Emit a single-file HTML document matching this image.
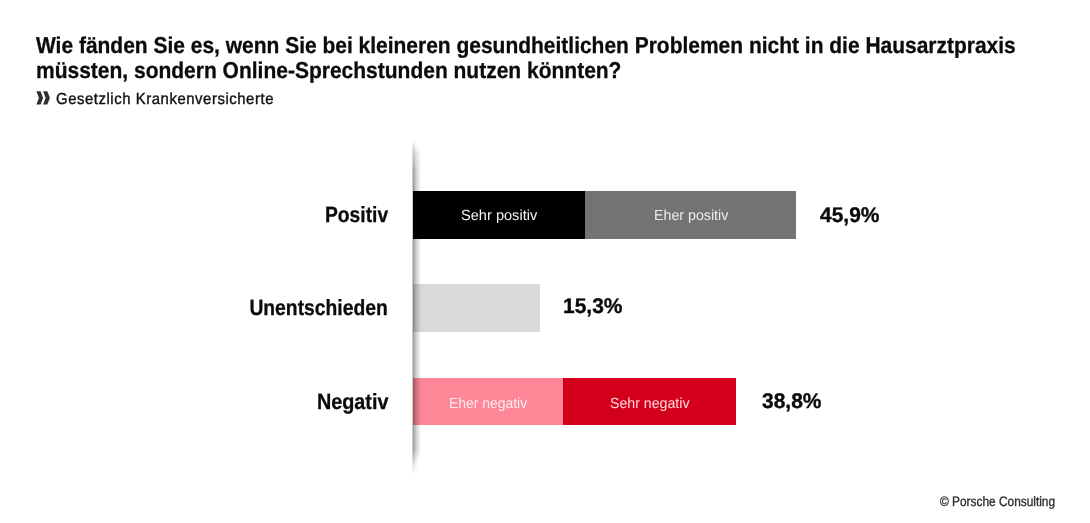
<!DOCTYPE html>
<html lang="de">
<head>
<meta charset="utf-8">
<title>Online-Sprechstunden</title>
<style>
html,body{margin:0;padding:0;background:#fff;}
body{width:1090px;height:523px;position:relative;overflow:hidden;font-family:"Liberation Sans",sans-serif;color:#0b0b0d;}
.t{position:absolute;white-space:nowrap;line-height:1;transform-origin:0 0;text-rendering:geometricPrecision;}
.r{transform-origin:100% 0;}
.title{font-weight:bold;font-size:22.9px;left:36.2px;-webkit-text-stroke:0.3px #0b0b0d;}
.sub{font-size:16px;left:55.8px;top:92.3px;color:#111;transform:scaleX(0.93);letter-spacing:0.6px;-webkit-text-stroke:0.4px #111;}
.lab{font-weight:bold;font-size:22px;right:702px;-webkit-text-stroke:0.3px #0b0b0d;}
.pct{font-weight:bold;font-size:21.2px;-webkit-text-stroke:0.35px #0b0b0d;}
.seg{position:absolute;height:48px;}
.sl{font-size:14.6px;color:#f4f4f4;}
.foot{font-size:13.7px;color:#2e2e30;left:939.6px;top:495.3px;transform:scaleX(0.868);-webkit-text-stroke:0.35px #2e2e30;}
</style>
</head>
<body>
<div class="t title" id="t1" style="top:33.8px;transform:scaleX(0.916);">Wie fänden Sie es, wenn Sie bei kleineren gesundheitlichen Problemen nicht in die Hausarztpraxis</div>
<div class="t title" id="t2" style="top:58.8px;transform:scaleX(0.917);">müssten, sondern Online-Sprechstunden nutzen könnten?</div>
<svg style="position:absolute;left:36px;top:91.2px" width="15" height="14" viewBox="0 0 15 14"><path d="M0.4 0.3H4.6L7.1 6.9L4.6 13.5H0.4L2.9 6.9Z M7.1 0.3H11.3L13.9 6.9L11.3 13.5H7.1L9.6 6.9Z" fill="#303032"/></svg>
<div class="t sub" id="sub">Gesetzlich Krankenversicherte</div>

<div class="seg" style="left:412.5px;top:190.5px;width:174px;height:48.2px;background:#000;"></div>
<div class="seg" style="left:585.4px;top:190.5px;width:210.7px;height:48.2px;background:#737375;"></div>
<div class="seg" style="left:412.5px;top:284.3px;width:127.9px;height:47.8px;background:#d9d9db;"></div>
<div class="seg" style="left:412.5px;top:377.6px;width:151px;height:47.7px;background:#fe8797;"></div>
<div class="seg" style="left:562.7px;top:377.6px;width:173.5px;height:47.7px;background:#d4001b;"></div>

<svg id="axis" style="position:absolute;left:412px;top:140px" width="12" height="338" viewBox="0 0 12 338">
<defs><linearGradient id="g" x1="0" x2="1" y1="0" y2="0"><stop offset="0" stop-color="#000" stop-opacity="0.39"/><stop offset="0.1" stop-color="#000" stop-opacity="0.37"/><stop offset="0.2" stop-color="#000" stop-opacity="0.29"/><stop offset="0.3" stop-color="#000" stop-opacity="0.23"/><stop offset="0.4" stop-color="#000" stop-opacity="0.18"/><stop offset="0.5" stop-color="#000" stop-opacity="0.14"/><stop offset="0.6" stop-color="#000" stop-opacity="0.1"/><stop offset="0.7" stop-color="#000" stop-opacity="0.06"/><stop offset="0.8" stop-color="#000" stop-opacity="0.03"/><stop offset="0.9" stop-color="#000" stop-opacity="0.01"/><stop offset="1" stop-color="#000" stop-opacity="0"/></linearGradient></defs>
<g fill="url(#g)">
<rect x="0.5" y="1" width="2.85" height="1" opacity="0.15"/>
<rect x="0.5" y="2" width="3.56" height="1" opacity="0.21"/>
<rect x="0.5" y="3" width="4.27" height="1" opacity="0.25"/>
<rect x="0.5" y="4" width="4.98" height="1" opacity="0.30"/>
<rect x="0.5" y="5" width="5.69" height="1" opacity="0.33"/>
<rect x="0.5" y="6" width="6.40" height="1" opacity="0.37"/>
<rect x="0.5" y="7" width="7.11" height="1" opacity="0.40"/>
<rect x="0.5" y="8" width="7.82" height="1" opacity="0.43"/>
<rect x="0.5" y="9" width="8.53" height="1" opacity="0.46"/>
<rect x="0.5" y="10" width="9.24" height="1" opacity="0.49"/>
<rect x="0.5" y="11" width="9.95" height="1" opacity="0.52"/>
<rect x="0.5" y="12" width="10.00" height="1" opacity="0.55"/>
<rect x="0.5" y="13" width="10.00" height="1" opacity="0.58"/>
<rect x="0.5" y="14" width="10.00" height="1" opacity="0.60"/>
<rect x="0.5" y="15" width="10.00" height="1" opacity="0.63"/>
<rect x="0.5" y="16" width="10.00" height="1" opacity="0.65"/>
<rect x="0.5" y="17" width="10.00" height="1" opacity="0.68"/>
<rect x="0.5" y="18" width="10.00" height="1" opacity="0.70"/>
<rect x="0.5" y="19" width="10.00" height="1" opacity="0.73"/>
<rect x="0.5" y="20" width="10.00" height="1" opacity="0.75"/>
<rect x="0.5" y="21" width="10.00" height="1" opacity="0.77"/>
<rect x="0.5" y="22" width="10.00" height="1" opacity="0.80"/>
<rect x="0.5" y="23" width="10.00" height="1" opacity="0.82"/>
<rect x="0.5" y="24" width="10.00" height="1" opacity="0.84"/>
<rect x="0.5" y="25" width="10.00" height="1" opacity="0.86"/>
<rect x="0.5" y="26" width="10.00" height="1" opacity="0.88"/>
<rect x="0.5" y="27" width="10.00" height="1" opacity="0.91"/>
<rect x="0.5" y="28" width="10.00" height="1" opacity="0.93"/>
<rect x="0.5" y="29" width="10.00" height="1" opacity="0.95"/>
<rect x="0.5" y="30" width="10.00" height="1" opacity="0.97"/>
<rect x="0.5" y="31" width="10.00" height="1" opacity="0.99"/>
<rect x="0.5" y="32" width="10.0" height="277"/>
<rect x="0.5" y="309" width="9.90" height="1" opacity="0.98"/>
<rect x="0.5" y="310" width="9.69" height="1" opacity="0.94"/>
<rect x="0.5" y="311" width="9.49" height="1" opacity="0.89"/>
<rect x="0.5" y="312" width="9.29" height="1" opacity="0.85"/>
<rect x="0.5" y="313" width="9.08" height="1" opacity="0.81"/>
<rect x="0.5" y="314" width="8.88" height="1" opacity="0.77"/>
<rect x="0.5" y="315" width="8.68" height="1" opacity="0.73"/>
<rect x="0.5" y="316" width="8.47" height="1" opacity="0.69"/>
<rect x="0.5" y="317" width="8.27" height="1" opacity="0.65"/>
<rect x="0.5" y="318" width="8.06" height="1" opacity="0.61"/>
<rect x="0.5" y="319" width="7.86" height="1" opacity="0.57"/>
<rect x="0.5" y="320" width="7.66" height="1" opacity="0.53"/>
<rect x="0.5" y="321" width="7.45" height="1" opacity="0.49"/>
<rect x="0.5" y="322" width="7.25" height="1" opacity="0.45"/>
<rect x="0.5" y="323" width="7.05" height="1" opacity="0.41"/>
<rect x="0.5" y="324" width="6.84" height="1" opacity="0.37"/>
<rect x="0.5" y="325" width="6.64" height="1" opacity="0.34"/>
<rect x="0.5" y="326" width="6.44" height="1" opacity="0.30"/>
<rect x="0.5" y="327" width="6.23" height="1" opacity="0.26"/>
<rect x="0.5" y="328" width="6.03" height="1" opacity="0.23"/>
<rect x="0.5" y="329" width="5.82" height="1" opacity="0.19"/>
<rect x="0.5" y="330" width="5.62" height="1" opacity="0.16"/>
<rect x="0.5" y="331" width="5.42" height="1" opacity="0.13"/>
<rect x="0.5" y="332" width="5.21" height="1" opacity="0.10"/>
<rect x="0.5" y="333" width="5.01" height="1" opacity="0.06"/>
<rect x="0.5" y="334" width="4.81" height="1" opacity="0.04"/>
<rect x="0.5" y="335" width="4.60" height="1" opacity="0.01"/>
</g></svg>

<div class="t lab r" id="l1" style="top:204px;transform:scaleX(0.875);">Positiv</div>
<div class="t lab r" id="l2" style="top:297px;transform:scaleX(0.877);">Unentschieden</div>
<div class="t lab r" id="l3" style="top:391px;transform:scaleX(0.9);">Negativ</div>

<div class="t pct" id="p1" style="left:820px;top:205.2px;transform:scaleX(0.99);">45,9%</div>
<div class="t pct" id="p2" style="left:562.9px;top:296.2px;transform:scaleX(0.99);">15,3%</div>
<div class="t pct" id="p3" style="left:761.6px;top:390.9px;transform:scaleX(0.99);">38,8%</div>

<div class="t sl" id="s1" style="left:461px;top:208.6px;">Sehr positiv</div>
<div class="t sl" id="s2" style="left:653.5px;top:208.6px;transform:scaleX(0.975);color:#ececec;">Eher positiv</div>
<div class="t sl" id="s3" style="left:448.7px;top:397.3px;transform:scaleX(0.954);color:#ffecee;">Eher negativ</div>
<div class="t sl" id="s4" style="left:610px;top:397.3px;transform:scaleX(0.97);color:#ffd8dc;">Sehr negativ</div>

<div class="t foot" id="foot">© Porsche Consulting</div>
</body>
</html>
